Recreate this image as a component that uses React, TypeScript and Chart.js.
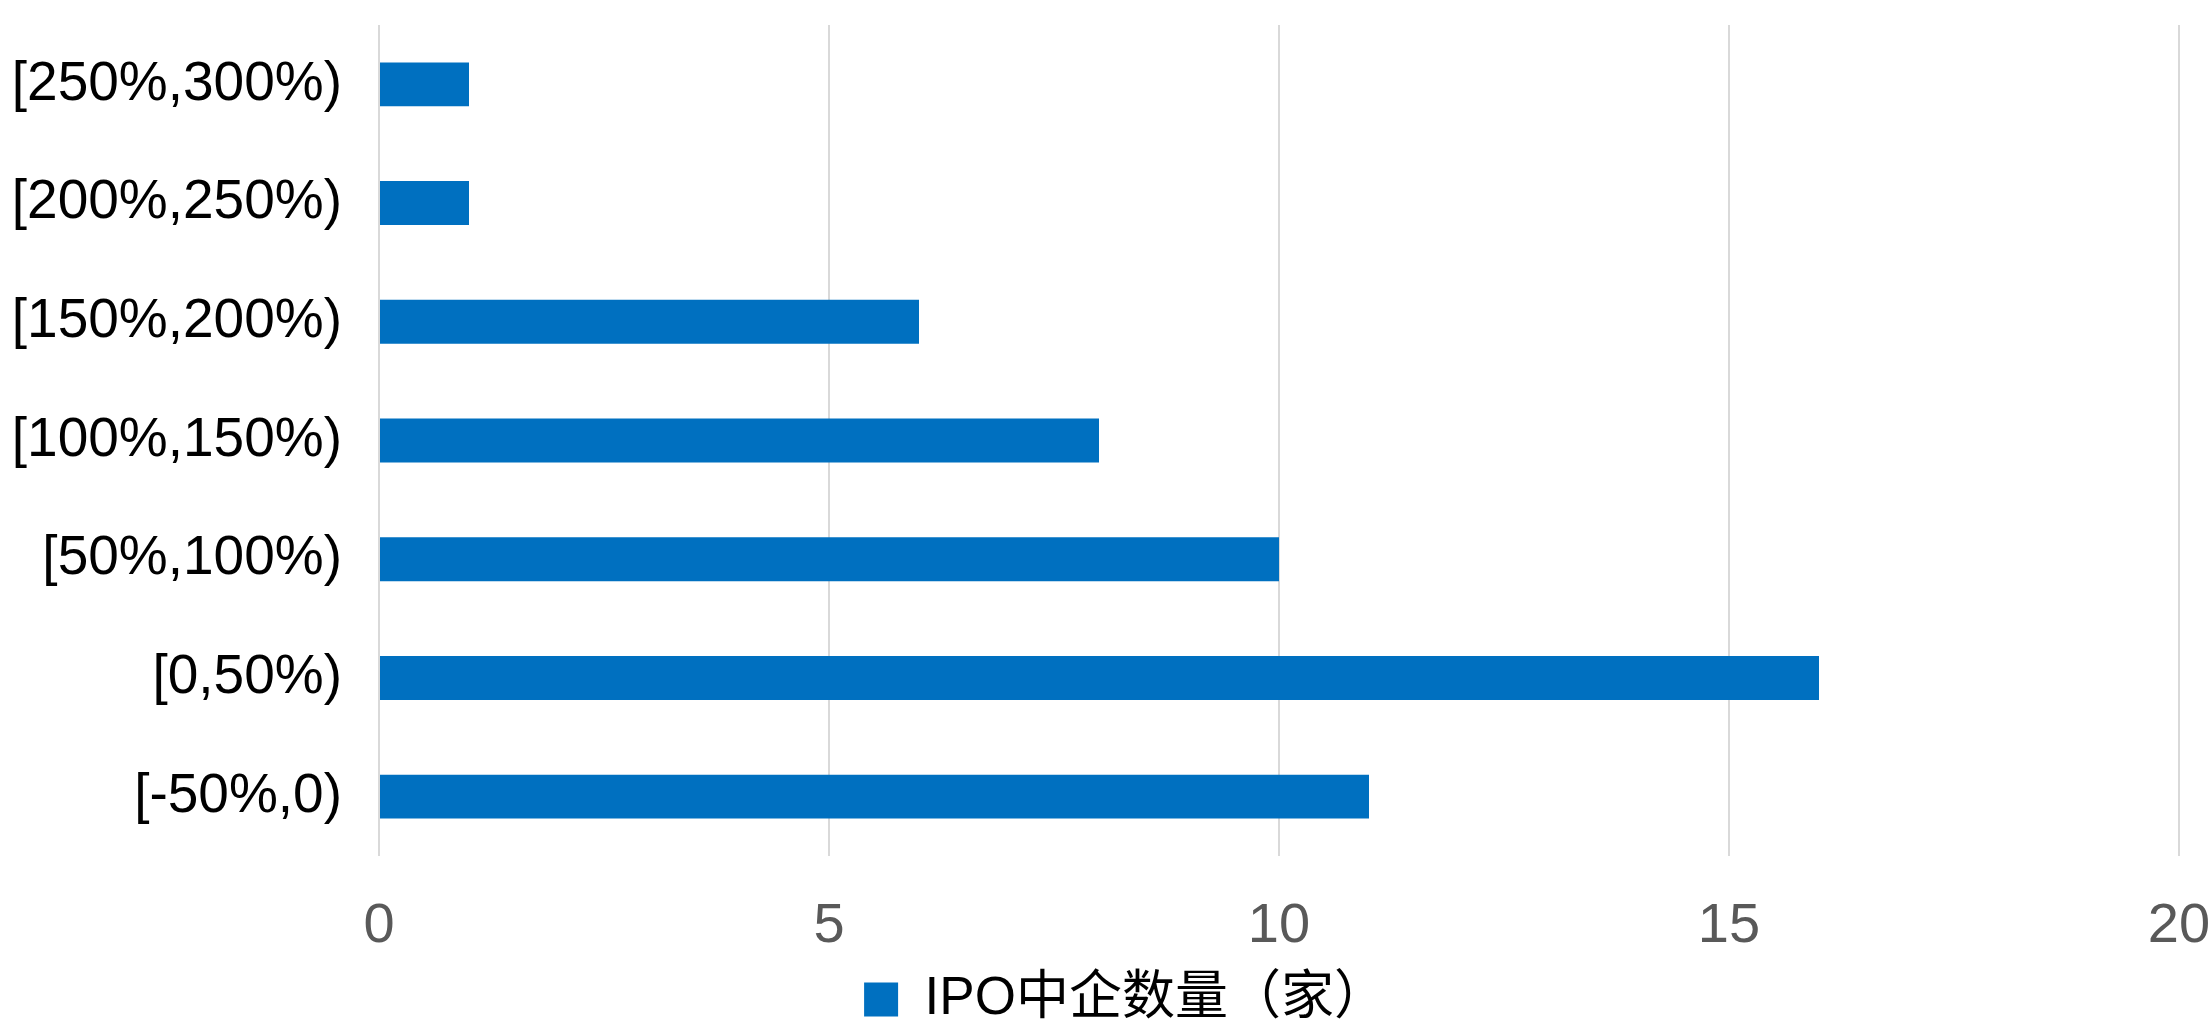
import React, { useEffect, useRef } from "react";
import { Chart, registerables } from "chart.js";

Chart.register(...registerables);

const categories = [
  "[250%,300%)",
  "[200%,250%)",
  "[150%,200%)",
  "[100%,150%)",
  "[50%,100%)",
  "[0,50%)",
  "[-50%,0)",
];
const counts = [1, 1, 6, 8, 10, 16, 11];
const seriesName = "IPO中企数量（家）";
const xTicks = [0, 5, 10, 15, 20];

const FONT = "'Liberation Sans', Arial, Helvetica, 'Noto Sans CJK SC', sans-serif";

const legendShift = {
  id: "legendShift",
  afterLayout(chart: any) {
    if (chart.legend) {
      chart.legend.top += 10;
      chart.legend.bottom += 10;
      chart.legend.left += 36;
      chart.legend.right += 36;
    }
  },
};

export default function App() {
  const ref = useRef<HTMLCanvasElement | null>(null);

  useEffect(() => {
    document.body.style.margin = "0";
    const ctx = ref.current!.getContext("2d")!;
    const chart = new Chart(ctx, {
      type: "bar",
      data: {
        labels: categories,
        datasets: [
          {
            label: seriesName,
            data: counts,
            backgroundColor: "#0070c0",
            borderWidth: 0,
            barPercentage: 0.37,
            categoryPercentage: 1,
          },
        ],
      },
      plugins: [legendShift],
      options: {
        indexAxis: "y",
        animation: false,
        responsive: false,
        maintainAspectRatio: false,
        devicePixelRatio: 1,
        layout: { padding: { top: 25, left: 0, right: 31, bottom: 0 } },
        plugins: {
          tooltip: { enabled: false },
          legend: {
            display: true,
            position: "bottom",
            labels: {
              color: "#000000",
              boxWidth: 34,
              boxHeight: 34,
              padding: 10,
              font: { family: "'Liberation Sans', Arial, 'Noto Sans CJK SC', sans-serif", size: 53 },
            },
          },
        },
        scales: {
          x: {
            type: "linear",
            min: xTicks[0],
            max: xTicks[xTicks.length - 1],
            afterBuildTicks: (scale: any) => {
              scale.ticks = xTicks.map((v) => ({ value: v }));
            },
            afterFit: (scale: any) => {
              scale.height = 97;
              scale.paddingLeft = 0;
              scale.paddingRight = 0;
            },
            grid: { color: "#d9d9d9", lineWidth: 2, drawTicks: false },
            border: { display: false },
            ticks: {
              color: "#595959",
              padding: 37,
              font: { family: FONT, size: 56 },
            },
          },
          y: {
            grid: { display: false, drawTicks: false },
            border: { display: false },
            afterFit: (scale: any) => {
              scale.width = 379;
              scale.paddingTop = 0;
              scale.paddingBottom = 0;
            },
            ticks: {
              color: "#000000",
              padding: 37,
              font: { family: FONT, size: 55 },
            },
          },
        },
      },
    });
    return () => chart.destroy();
  }, []);

  return (
    <div style={{ position: "absolute", left: 0, top: 0, width: 2210, height: 1026 }}>
      <canvas ref={ref} width={2210} height={1026} style={{ width: 2210, height: 1026 }} />
    </div>
  );
}
